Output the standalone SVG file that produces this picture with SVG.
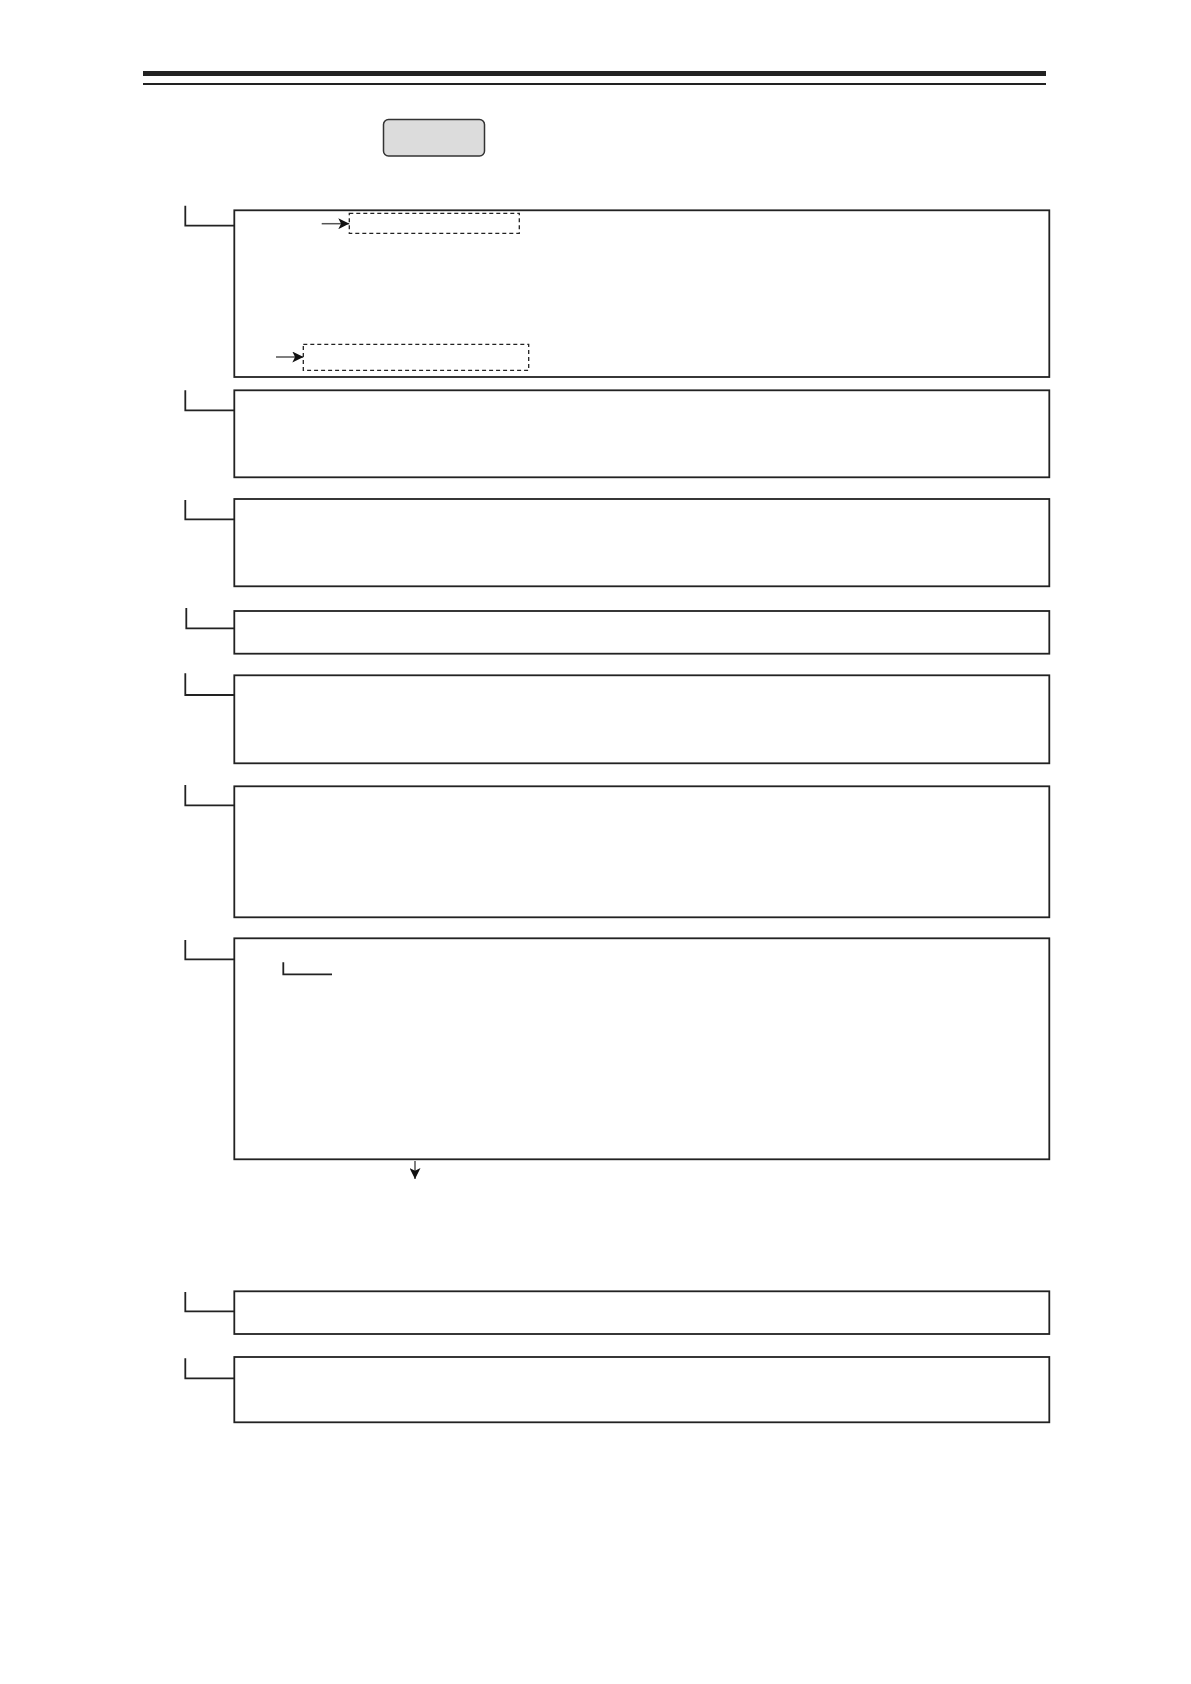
<svg xmlns="http://www.w3.org/2000/svg" width="1191" height="1684" viewBox="0 0 1191 1684">
<style>
.box{fill:none;stroke:#222;stroke-width:1.8}
.br{fill:none;stroke:#222;stroke-width:1.8}
.dash{fill:none;stroke:#222;stroke-width:1.3;stroke-dasharray:4 3}
.arr{fill:none;stroke:#555;stroke-width:1.5}
</style>
<defs>
<marker id="ah" viewBox="0 0 10 10" refX="10" refY="5" markerWidth="11" markerHeight="11" markerUnits="userSpaceOnUse" orient="auto">
<path d="M0,0 L10,5 L0,10 L2.5,5 Z" fill="#111"/>
</marker>
</defs>
<rect width="1191" height="1684" fill="#fff"/>
<g id="header">
<rect x="143" y="71" width="903" height="5" fill="#222"/>
<rect x="143" y="83" width="903" height="2" fill="#222"/>
</g>
<g id="title">
<rect x="383.5" y="119.5" width="101" height="36.5" rx="5" fill="#dcdcdc" stroke="#333" stroke-width="1.5"/>
</g>
<g id="n1">
<rect class="box" x="234.3" y="210.3" width="815" height="166.7"/>
<rect class="dash" x="349.3" y="213.3" width="170" height="20"/>
<rect class="dash" x="303.3" y="344.3" width="225.4" height="26"/>
</g>
<g id="n2"><rect class="box" x="234.3" y="390.3" width="815" height="87"/></g>
<g id="n3"><rect class="box" x="234.3" y="499" width="815" height="87.3"/></g>
<g id="n4"><rect class="box" x="234.3" y="611" width="815" height="42.7"/></g>
<g id="n5"><rect class="box" x="234.3" y="675.3" width="815" height="88"/></g>
<g id="n6"><rect class="box" x="234.3" y="786.3" width="815" height="131"/></g>
<g id="n7">
<rect class="box" x="234.3" y="938.3" width="815" height="221"/>
<path class="br" d="M283.3,962.3 V974.3 H332"/>
</g>
<g id="n8"><rect class="box" x="234.3" y="1291.3" width="815" height="42.7"/></g>
<g id="n9"><rect class="box" x="234.3" y="1357" width="815" height="65.3"/></g>
<g id="connectors">
<path class="br" d="M185.3,205.7 V225.7 H234.3"/>
<path class="br" d="M185.3,390.3 V410.3 H234.3"/>
<path class="br" d="M185.3,500 V519.3 H234.3"/>
<path class="br" d="M186.3,608 V628.3 H234.3"/>
<path class="br" d="M185.3,673.3 V695 H234.3"/>
<path class="br" d="M185.3,785 V805.3 H234.3"/>
<path class="br" d="M185.3,940 V959.3 H234.3"/>
<path class="br" d="M185.3,1292 V1311.3 H234.3"/>
<path class="br" d="M185.3,1358.3 V1378.3 H234.3"/>
<line class="arr" x1="321.7" y1="223.7" x2="349.3" y2="223.7" marker-end="url(#ah)"/>
<line class="arr" x1="276" y1="357" x2="303.3" y2="357" marker-end="url(#ah)"/>
<line class="arr" x1="415" y1="1161" x2="415" y2="1179" marker-end="url(#ah)"/>
</g>
</svg>
